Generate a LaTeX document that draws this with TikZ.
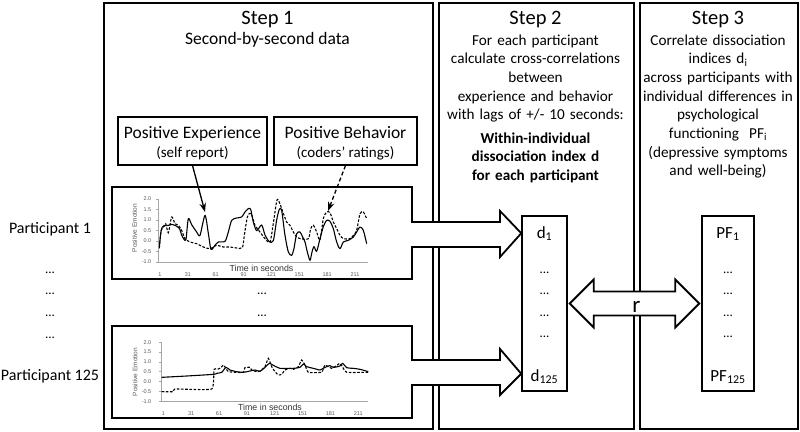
\documentclass[tikz,border=0pt]{standalone}
\usepackage{fontspec}
\setmainfont{Carlito}
\newfontfamily\plotfont{Liberation Sans}
\usetikzlibrary{arrows.meta,calc}
\begin{document}
\begin{tikzpicture}[x=1pt,y=-1pt,
  stepbox/.style={draw, line width=1.8pt, inner sep=0pt, anchor=north west},
  plotbox/.style={draw, line width=2.6pt, line join=miter},
  blockarrow/.style={draw, fill=white, line width=1.8pt, line join=miter},
  labelbox/.style={draw, line width=1.1pt, minimum height=48pt, inner sep=0pt},
  colbox/.style={draw, line width=1.5pt, inner sep=0pt, minimum height=175pt},
  txt/.style={inner sep=0pt, anchor=base},
  body/.style={txt, font=\fontsize{15.2}{18.7}\selectfont, align=center, text width=190pt},
  title/.style={txt, font=\fontsize{20.5}{24}\selectfont},
  big/.style={txt, font=\fontsize{17.5}{20}\selectfont},
  mid/.style={txt, font=\fontsize{15}{18}\selectfont},
  part/.style={txt, font=\fontsize{16}{19}\selectfont},
  dotrow/.style={txt, font=\fontsize{13}{14}\selectfont},
  axisline/.style={draw=black!35, line width=0.6pt},
  ticklab/.style={inner sep=0pt, font=\plotfont\fontsize{5.5}{6}\selectfont, text=black!65},
  axlab/.style={inner sep=0pt, font=\plotfont\fontsize{6.5}{7}\selectfont, text=black!65},
  timelab/.style={inner sep=0pt, font=\plotfont\fontsize{8.8}{9}\selectfont, text=black!80},
  solidcurve/.style={line width=1.1pt, smooth, tension=0.45, line join=round},
  dashcurve/.style={line width=1.1pt, smooth, tension=0.45, dash pattern=on 2.6pt off 1.6pt},
  pointer/.style={line width=1.3pt, -{Stealth[length=9pt,width=6.5pt]}},
]
\useasboundingbox (0,0) rectangle (800,431);

% step boxes
\node[stepbox, minimum width=329pt, minimum height=426pt] (s1) at (103,2) {};
\node[stepbox, minimum width=195pt, minimum height=426pt] (s2) at (438,2) {};
\node[stepbox, minimum width=158pt, minimum height=426pt] (s3) at (639,2) {};

% titles and texts
\node[title] (t1) at (267.5,24) {Step 1};
\node[big] (t1b) at (267.5,44) {Second-by-second data};
\node[title] (t2) at (535.5,24) {Step 2};
\node[title] (t3) at (718,24) {Step 3};
\node[body] (b2) at (535.5,45) {For each participant\\calculate cross-correlations\\between\\experience and behavior\\with lags of +/- 10 seconds:};
\node[body, font=\bfseries\fontsize{15.2}{18.6}\selectfont] (b2b) at (535.5,143) {Within-individual\\dissociation index d\\for each participant};
\node[body] (b3) at (718,45) {Correlate dissociation\\indices d\textsubscript{i}\\across participants with\\individual differences in\\psychological\\functioning\ \ PF\textsubscript{i}\\(depressive symptoms\\and well-being)};

% label boxes
\node[labelbox, minimum width=149pt] (pe) at (192.5,141) {};
\node[big] (pet) at (192.5,138) {Positive Experience};
\node[mid] (pes) at (192.5,157) {(self report)};
\node[labelbox, minimum width=143pt] (pb) at (345.5,141) {};
\node[big] (pbt) at (345.5,138) {Positive Behavior};
\node[mid] (pbs) at (345.5,157) {(coders’ ratings)};

% column boxes
\node[colbox, minimum width=45pt] (d) at (544.5,303.5) {};
\node[colbox, minimum width=52pt] (pf) at (728,303.5) {};
\node[big, font=\fontsize{17}{20}\selectfont] (d1) at (544.5,238) {d\textsubscript{1}};
\node[big, font=\fontsize{17}{20}\selectfont] (d125) at (544.5,381) {d\textsubscript{125}};
\node[big, font=\fontsize{17}{20}\selectfont] (pf1) at (728,238) {PF\textsubscript{1}};
\node[big, font=\fontsize{17}{20}\selectfont] (pf125) at (728,381) {PF\textsubscript{125}};
\foreach \yy [count=\k] in {273,294,316,337} {
  \node[dotrow] (dd\k) at (544.5,\yy) {...};
  \node[dotrow] (pd\k) at (728,\yy) {...};
}

% participant labels
\node[part] (p1) at (50,233) {Participant 1};
\node[part] (p125) at (50,380) {Participant 125};
\foreach \yy [count=\k] in {273,294,316,338} {
  \node[dotrow] (ld\k) at (50,\yy) {...};
}
\node[dotrow] (md1) at (262,294) {...};
\node[dotrow] (md2) at (262,316) {...};

% block arrows
\coordinate (tipA) at ($(d.north west)+(0,18)$);
\coordinate (tipB) at ($(d.south west)+(0,-18)$);
\draw[blockarrow] (428,222) -- (500,222) -- (500,211) -- (tipA) -- (500,257) -- (500,247) -- (428,247);
\draw[blockarrow] (428,360) -- (500,360) -- (500,349) -- (tipB) -- (500,395) -- (500,385) -- (428,385);
\coordinate (rl) at ($(d.east)+(2,0)$);
\coordinate (rr) at ($(pf.west)+(-2,0)$);
\draw[blockarrow] (rl) -- ++(24,-24) -- ++(0,12) -- ($(rr)+(-24,-12)$) -- ++(0,-12) -- (rr) -- ++(-24,24) -- ++(0,-12) -- ($(rl)+(24,12)$) -- ++(0,12) -- cycle;
\node[txt, font=\fontsize{23}{24}\selectfont] (r) at (636.5,312) {r};

% plot boxes
\draw[plotbox] (433,222) -- (412,222) -- (412,187) -- (112,187) -- (112,279) -- (412,279) -- (412,247) -- (433,247);
\draw[plotbox] (433,360) -- (412,360) -- (412,326) -- (112,326) -- (112,418) -- (412,418) -- (412,385) -- (433,385);

% ---- plot 1 axes
\draw[axisline] (158.5,199) -- (158.5,262) -- (368,262);
\foreach \v/\lab [count=\k] in {2/2.0,1.5/1.5,1/1.0,0.5/0.5,0/0.0,-0.5/-0.5,-1/-1.0} {
  \draw[axisline] (156,{241-21*\v}) -- (158.5,{241-21*\v});
  \node[ticklab, anchor=east] (ay\k) at (151.5,{241-21*\v}) {\lab};
}
\foreach \t [count=\k] in {1,31,61,91,121,151,181,211} {
  \node[ticklab] (ax\k) at ({160+0.9286*(\t-1)},274.5) {\t};
}
\node[axlab, rotate=90] (ayl) at (134.5,228) {Positive Emotion};
\node[timelab] (axl) at (261.5,268.5) {Time in seconds};

% ---- plot 2 axes
\draw[axisline] (161.7,342.3) -- (161.7,401.3) -- (368,401.3);
\foreach \v/\lab [count=\k] in {2/2.0,1.5/1.5,1/1.0,0.5/0.5,0/0.0,-0.5/-0.5,-1/-1.0} {
  \draw[axisline] (159.2,{381.6-19.67*\v}) -- (161.7,{381.6-19.67*\v});
  \node[ticklab, anchor=east] (by\k) at (151.5,{381.6-19.67*\v}) {\lab};
}
\foreach \t [count=\k] in {1,31,61,91,121,151,181,211} {
  \node[ticklab] (bx\k) at ({163.3+0.9286*(\t-1)},413.5) {\t};
}
\node[axlab, rotate=90] (byl) at (135,372) {Positive Emotion};
\node[timelab] (bxl) at (270,407) {Time in seconds};

% ---- plot 1 curves
\begin{scope}[shift={(0,180)}, xscale=0.33333, yscale=0.33333]
\draw[solidcurve] plot coordinates {(478,205) (482,160) (487,141) (495,137) (505,136) (515,133) (525,136) (538,145) (545,165) (552,178) (558,178) (565,116) (575,134) (590,156) (600,166) (615,106) (625,160) (633,208) (645,196) (655,186) (675,184) (685,156) (695,121) (710,114) (725,111) (735,96) (745,86) (752,88) (760,126) (770,152) (785,135) (795,165) (808,185) (820,182) (830,120) (838,88) (845,92) (855,166) (865,216) (875,226) (882,205) (890,161) (900,156) (908,171) (915,186) (922,216) (930,241) (936,216) (942,200) (950,214) (960,176) (970,140) (980,121) (990,124) (1000,146) (1010,186) (1020,206) (1030,186) (1045,181) (1060,171) (1070,156) (1080,141) (1090,151) (1100,191)};
\draw[dashcurve] plot coordinates {(479,190) (484,150) (490,141) (497,131) (505,158) (515,111) (525,131) (535,136) (545,151) (555,176) (570,186) (590,191) (610,201) (630,206) (650,196) (670,201) (690,201) (710,204) (727,203) (733,166) (742,111) (750,100) (757,110) (765,136) (780,156) (795,176) (810,186) (820,130) (831,60) (840,72) (850,100) (860,126) (870,136) (880,156) (890,171) (900,176) (925,176) (932,146) (940,136) (950,156) (960,180) (970,116) (980,96) (990,98) (1000,126) (1010,146) (1020,166) (1030,176) (1050,176) (1060,166) (1070,151) (1080,101) (1090,96) (1100,116)};
\end{scope}

% ---- plot 2 curves
\begin{scope}[shift={(0,300)}, xscale=0.33333, yscale=0.33333]
\draw[solidcurve] plot coordinates {(485,232) (560,228) (640,223) (650,220) (665,217) (678,202) (690,210) (710,215) (730,217) (750,213) (765,210) (780,214) (795,202) (808,190) (820,196) (840,205) (860,205) (880,205) (900,202) (910,192) (920,200) (940,205) (960,210) (970,205) (980,200) (990,197) (1000,202) (1020,198) (1028,190) (1040,203) (1060,205) (1080,208) (1105,215)};
\draw[dashcurve, tension=0.25] plot coordinates {(485,275) (520,275) (525,267) (635,267) (642,208) (655,207) (663,203) (670,195) (678,205) (685,215) (710,217) (730,217) (735,203) (750,202) (755,210) (770,215) (780,213) (795,200) (805,175) (815,200) (825,215) (835,225) (845,223) (855,210) (870,205) (880,208) (895,200) (905,180) (915,195) (925,217) (965,217) (970,205) (975,195) (985,200) (995,205) (1005,200) (1020,190) (1030,205) (1040,217) (1105,217)};
\end{scope}

% pointers
\coordinate (peakA) at (205,212);
\coordinate (peakB) at (328,211);
\draw[pointer] (pe.south) -- (peakA);
\draw[pointer, dash pattern=on 4pt off 2.5pt] (pb.south) -- (peakB);
\end{tikzpicture}
\end{document}
